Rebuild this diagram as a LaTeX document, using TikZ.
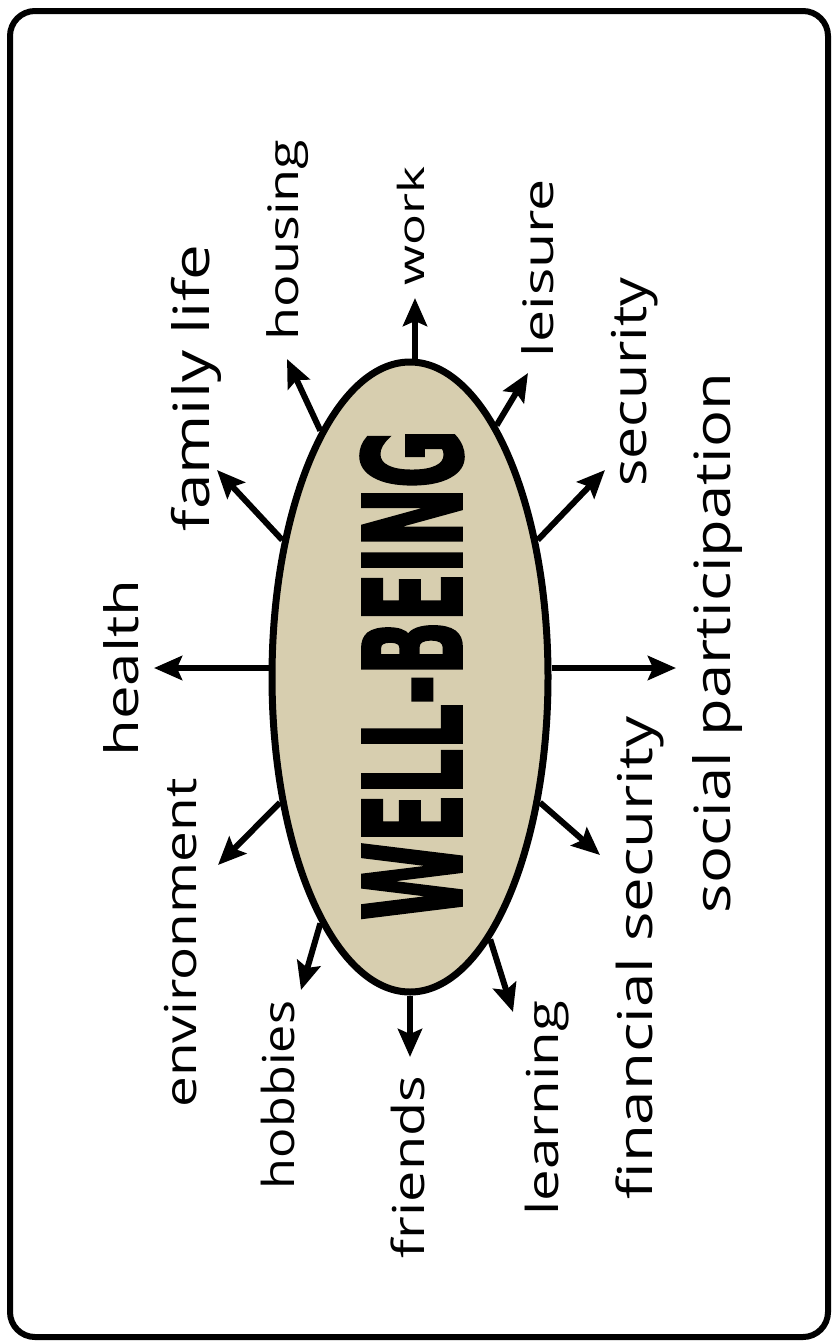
\documentclass[tikz,border=0pt]{standalone}
\usepackage{fontspec}
\usepackage{graphicx}
\setmainfont{Open Sans}
\newfontfamily\wbfont[FakeStretch=0.6,FakeBold=2]{DejaVu Sans}
\usetikzlibrary{arrows.meta,shapes.geometric}
\definecolor{beige}{RGB}{215,206,175}
\newcommand\fitw[2]{\resizebox{#1}{\height}{#2}}
\begin{document}
\begin{tikzpicture}[x=1pt,y=-1pt,
  arr/.style={line width=6pt,-{Stealth[length=28pt,width=24pt,inset=5pt]}},
  lbl/.style={rotate=90,anchor=base,inner sep=0pt,font=\fontsize{#1}{#1}\selectfont},
]
\useasboundingbox (0,0) rectangle (832,1341);
\draw[line width=6pt,rounded corners=25pt] (10,11) rectangle (828,1337);
\node[ellipse,draw,line width=7pt,fill=beige,minimum width=276pt,minimum height=630pt,inner sep=0pt] (wb) at (410,677) {};
\node[rotate=90,inner sep=0pt] (title) at (412,675) {\wbfont\bfseries\fontsize{136}{136}\selectfont\fitw{490pt}{WELL-BEING}};
% arrow tips
\coordinate (tHealth) at (154,668);
\coordinate (tFamily) at (217,470);
\coordinate (tHousing) at (287,359);
\coordinate (tWork) at (415,298);
\coordinate (tLeisure) at (528,373);
\coordinate (tSecurity) at (605,470);
\coordinate (tSocial) at (676,668);
\coordinate (tFinancial) at (600,855);
\coordinate (tLearning) at (513,1012);
\coordinate (tFriends) at (410,1057);
\coordinate (tHobbies) at (301,990);
\coordinate (tEnvironment) at (218,865);
% arrows
\draw[arr] (wb.west |- tHealth) -- (tHealth);
\draw[arr] (wb.133) -- (tFamily);
\draw[arr] (wb.110) -- (tHousing);
\draw[arr] (tWork |- wb.north) -- (tWork);
\draw[arr] (wb.71) -- (tLeisure);
\draw[arr] (wb.47.6) -- (tSecurity);
\draw[arr] (wb.east |- tSocial) -- (tSocial);
\draw[arr] (wb.-44) -- (tFinancial);
\draw[arr] (wb.-73) -- (tLearning);
\draw[arr] (wb.south) -- (tFriends);
\draw[arr] (wb.-110) -- (tHobbies);
\draw[arr] (wb.-136.5) -- (tEnvironment);
% labels
\node[lbl=46] (health) at (138,668) {\fitw{177pt}{health}};
\node[lbl=50] (family) at (209,388) {\fitw{287pt}{family life}};
\node[lbl=42] (housing) at (298,240) {\fitw{201pt}{housing}};
\node[lbl=36] (work) at (424,226) {\fitw{119pt}{work}};
\node[lbl=42] (leisure) at (553,268) {\fitw{178pt}{leisure}};
\node[lbl=48] (security) at (646,382) {\fitw{209pt}{security}};
\node[lbl=50] (social) at (730,643) {\fitw{540pt}{social participation}};
\node[lbl=48] (financial) at (652,958) {\fitw{483pt}{financial security}};
\node[lbl=44] (learning) at (558,1108) {\fitw{215pt}{learning}};
\node[lbl=44] (friends) at (424,1167) {\fitw{182pt}{friends}};
\node[lbl=44] (hobbies) at (294,1095) {\fitw{188pt}{hobbies}};
\node[lbl=44] (environment) at (196,943) {\fitw{329pt}{environment}};
\end{tikzpicture}
\end{document}
